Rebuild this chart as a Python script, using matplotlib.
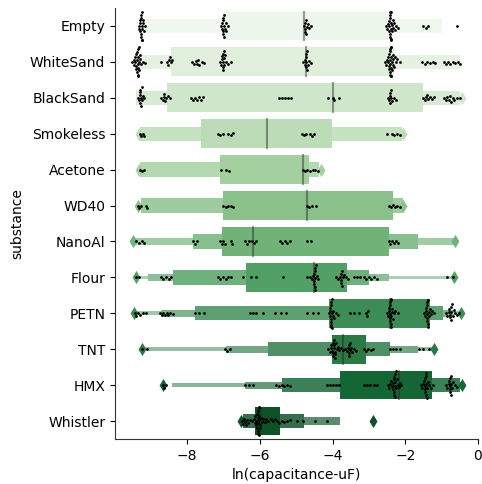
import matplotlib
matplotlib.use("Agg")
import matplotlib.pyplot as plt
import numpy as np
import pandas as pd
import seaborn as sns

substances = ["Empty", "WhiteSand", "BlackSand", "Smokeless", "Acetone", "WD40",
              "NanoAl", "Flour", "PETN", "TNT", "HMX", "Whistler"]

empty = [-9.33, -9.31, -9.3, -9.29, -9.28, -9.27, -9.27, -9.26, -9.26, -9.25, -9.25, -9.24, -9.24, -9.23, -9.22, -9.21, -9.19, -9.16,
         -7.06, -7.04, -7.03, -7.02, -7.01, -7.0, -7.0, -6.99, -6.98, -6.97, -6.96, -6.94, -6.92, -6.88,
         -4.78, -4.77, -4.76, -4.75, -4.74, -4.73, -4.71, -4.68, -4.64, -4.58,
         -2.52, -2.49, -2.47, -2.46, -2.45, -2.44, -2.43, -2.42, -2.42, -2.41, -2.41, -2.4, -2.4, -2.39, -2.39, -2.38,
         -2.37, -2.36, -2.35, -2.33, -2.31, -2.28, -2.25, -2.2,
         -1.5, -1.44, -1.38, -0.58]
whitesand = [-9.5, -9.47, -9.45, -9.43, -9.42, -9.41, -9.4, -9.39, -9.38, -9.37, -9.37, -9.36, -9.36, -9.35, -9.35,
             -9.34, -9.34, -9.33, -9.32, -9.31, -9.3, -9.28, -9.26, -9.22, -9.15,
             -8.71, -8.56, -8.53, -8.5, -8.48, -8.45, -8.4,
             -7.86, -7.8, -7.76, -7.72, -7.69, -7.66, -7.6, -7.53,
             -7.08, -7.06, -7.04, -7.03, -7.02, -7.01, -7.0, -7.0, -6.99, -6.98, -6.97, -6.95, -6.92, -6.87, -6.8,
             -4.8, -4.77, -4.75, -4.74, -4.73, -4.72, -4.72, -4.71, -4.7, -4.68, -4.65, -4.6,
             -2.55, -2.52, -2.5, -2.48, -2.47, -2.46, -2.45, -2.44, -2.43, -2.43, -2.42, -2.42, -2.41, -2.41, -2.4,
             -2.4, -2.39, -2.39, -2.38, -2.38, -2.37, -2.36, -2.35, -2.34, -2.33, -2.31, -2.29, -2.26, -2.22, -2.15,
             -1.53, -1.47, -1.4, -1.33, -1.25, -1.18,
             -0.94, -0.88, -0.82, -0.76, -0.7, -0.63, -0.56, -0.5]
blacksand = [-9.34, -9.31, -9.3, -9.29, -9.28, -9.28, -9.27, -9.26, -9.25, -9.23, -9.21, -9.17,
             -8.72, -8.67, -8.64, -8.62, -8.6, -8.57, -8.53, -8.46,
             -7.88, -7.83, -7.78, -7.72, -7.67, -7.62, -7.57,
             -5.48, -5.39, -5.3, -5.22, -5.14,
             -4.12, -4.0, -3.96, -3.82,
             -2.48, -2.45, -2.43, -2.42, -2.41, -2.4, -2.38, -2.36, -2.32, -2.26,
             -1.52, -1.47, -1.43, -1.4, -1.37, -1.33, -1.27, -1.2,
             -0.93, -0.88, -0.84, -0.8, -0.77, -0.74, -0.7, -0.65, -0.58, -0.5]
smokeless = [-9.3, -9.27, -9.22, -9.18, -7.15, -7.08, -7.0, -6.87, -6.8, -6.74,
             -4.85, -4.79, -4.72, -4.62, -4.57, -4.52, -2.51, -2.37, -2.3, -2.22, -2.15]
acetone = [-9.3, -9.24, -9.18, -7.07, -6.92, -6.85,
           -4.82, -4.76, -4.7, -4.63, -4.55, -4.47, -4.4]
wd40 = [-9.35, -9.31, -9.27, -9.13, -9.11, -7.0, -6.94, -6.88, -6.8, -6.74,
        -4.71, -4.64, -4.56, -4.46, -2.46, -2.4, -2.35, -2.29, -2.22, -2.15]
nanoal = [-9.4, -9.33, -9.25, -9.18, -7.83, -7.78, -7.72, -7.1, -7.05, -7.0, -6.96, -6.79, -6.77,
          -6.41, -6.36, -6.3, -6.22, -6.16, -6.09, -5.45, -5.38, -5.3, -5.24, -5.17, -4.71, -4.58,
          -2.46, -2.41, -2.36, -2.3, -2.25, -2.19]
flour = [-9.4, -9.32, -8.71, -8.65, -8.57, -8.5, -8.43, -7.15, -7.08, -7.0, -6.93, -6.86, -6.78,
         -6.46, -6.23, -6.1, -5.36,
         -4.7, -4.62, -4.56, -4.53, -4.51, -4.5, -4.5, -4.49, -4.49, -4.48, -4.48, -4.47, -4.46, -4.44, -4.4,
         -3.9, -3.84, -3.8, -3.78, -3.77, -3.76, -3.75, -3.74, -3.72, -3.69, -3.64, -3.57,
         -3.42, -3.33, -3.25, -3.14, -3.07, -3.0, -2.93, -2.86, -2.79, -0.85, -0.69]
petn = [-9.44, -9.4, -9.36, -9.3, -9.22, -9.13, -8.75, -8.7, -8.65, -8.6, -8.56, -8.52, -8.46, -8.39,
        -7.79, -7.66, -7.52, -6.27, -6.18, -6.09, -5.91, -5.58, -5.42, -5.27, -4.71, -4.55, -4.4,
        -4.1, -4.08, -4.07, -4.06, -4.05, -4.05, -4.04, -4.04, -4.03, -4.03, -4.02, -4.02, -4.01, -4.0,
        -3.98, -3.95, -3.9, -3.84, -3.52, -3.4, -3.26, -3.08, -3.05, -3.02,
        -2.5, -2.47, -2.45, -2.44, -2.43, -2.42, -2.42, -2.41, -2.41, -2.4, -2.4, -2.39, -2.39, -2.38,
        -2.37, -2.36, -2.34, -2.31, -2.27, -2.2,
        -1.48, -1.45, -1.43, -1.42, -1.41, -1.4, -1.4, -1.39, -1.39, -1.38, -1.38, -1.37, -1.36, -1.35,
        -1.33, -1.3, -1.26, -1.2,
        -0.88, -0.84, -0.81, -0.79, -0.77, -0.76, -0.75, -0.74, -0.73, -0.72, -0.7, -0.67, -0.63, -0.58, -0.52]
tnt = [-9.24, -9.1, -6.96, -6.9, -6.83,
       -4.12, -4.08, -4.05, -4.03, -4.01, -4.0, -3.99, -3.98, -3.97, -3.96, -3.95, -3.94, -3.93, -3.92,
       -3.91, -3.89, -3.86, -3.82, -3.77, -3.72,
       -3.66, -3.61, -3.58, -3.56, -3.55, -3.54, -3.53, -3.52, -3.5, -3.47, -3.42, -3.36,
       -3.14, -3.08, -3.02, -2.95, -2.88, -2.42, -2.34, -2.25, -2.15, -1.62, -1.5, -1.35]
hmx = [-8.66, -8.62, -8.57, -6.41, -6.3, -6.19, -5.54, -5.47, -5.4, -5.33, -5.25, -5.18,
       -4.15, -4.06, -3.98, -3.9, -3.82, -3.14, -3.05, -2.96, -2.87, -2.79,
       -2.48, -2.44, -2.41, -2.38, -2.36, -2.34, -2.33, -2.32, -2.31, -2.3, -2.3, -2.29, -2.29, -2.28,
       -2.27, -2.26, -2.25, -2.23, -2.21, -2.18, -2.15, -2.12,
       -1.57, -1.53, -1.5, -1.48, -1.47, -1.46, -1.45, -1.45, -1.44, -1.44, -1.43, -1.42, -1.41, -1.39,
       -1.37, -1.34, -1.3, -1.24,
       -0.88, -0.84, -0.81, -0.79, -0.78, -0.77, -0.76, -0.76, -0.75, -0.74, -0.73, -0.71, -0.68, -0.64, -0.59]
whistler = [-6.5, -6.47, -6.44, -6.41, -6.38, -6.35, -6.31, -6.27,
            -6.2, -6.17, -6.14, -6.12, -6.1, -6.09, -6.08, -6.07, -6.06, -6.05, -6.05, -6.04, -6.04, -6.03,
            -6.03, -6.02, -6.02, -6.01, -6.0, -5.99, -5.97, -5.94, -5.9, -5.86, -5.82,
            -5.76, -5.7, -5.64, -5.58, -5.52, -5.46, -5.4, -5.33, -5.25, -5.18,
            -4.98, -4.82, -4.48, -4.16]

observations = [empty, whitesand, blacksand, smokeless, acetone, wd40,
                nanoal, flour, petn, tnt, hmx, whistler]

# letter-value box ends, innermost first (lower, upper)
lv_boxes = [
    [(-7.01, -2.42), (-9.25, -1.0)],
    [(-8.43, -2.32), (-9.44, -0.49)],
    [(-8.55, -1.52), (-9.4, -0.49)],
    [(-7.62, -4.02), (-9.3, -2.1)],
    [(-7.1, -4.64), (-9.3, -4.36)],
    [(-7.01, -2.34), (-9.26, -2.07)],
    [(-7.05, -2.46), (-7.83, -1.64), (-9.45, -0.63)],
    [(-6.38, -3.59), (-8.38, -3.01), (-9.07, -2.46), (-9.3, -0.67)],
    [(-4.09, -1.31), (-7.79, -0.95), (-8.71, -0.7), (-9.44, -0.49)],
    [(-4.01, -3.08), (-5.77, -2.42), (-6.92, -1.66), (-9.21, -1.22)],
    [(-3.79, -1.27), (-5.4, -0.5), (-6.41, -0.48), (-8.4, -0.46)],
    [(-6.12, -5.43), (-6.46, -4.78), (-6.5, -3.79)],
]
medians = [-4.78, -4.74, -3.98, -5.79, -4.82, -4.69, -6.18, -4.5, -2.43, -3.7, -2.16, -6.0]
outliers = [
    [], [], [-0.45], [-9.32, -2.05], [-9.32, -4.33], [-9.35, -2.05],
    [-9.49, -0.62], [-9.4, -0.67], [-9.47, -0.46], [-9.24, -1.22], [-8.66, -0.44], [-6.52, -2.88],
]

fig = plt.figure(figsize=(4.82, 4.84), dpi=100)
ax = fig.add_axes([0.2386, 0.093, 0.9917 - 0.2386, 0.9835 - 0.093])

palette = sns.color_palette("Greens", len(substances), desat=0.75)

for i, name in enumerate(substances):
    base = np.array(palette[i])
    levels = lv_boxes[i]
    n = len(levels)
    for j in range(n - 1, -1, -1):
        lo, hi = levels[j]
        t = 0.17 * j
        col = base + (1 - base) * t
        ax.barh(i, hi - lo, left=lo, height=0.8 * 0.5 ** j, color=col,
                linewidth=0, zorder=1 + (n - j) * 0.01)
    ax.plot([medians[i], medians[i]], [i - 0.4, i + 0.4], color=".15", alpha=.45,
            lw=1.5, zorder=1.5)
    if outliers[i]:
        ax.scatter(outliers[i], [i] * len(outliers[i]), marker="d", s=45,
                   color=base, linewidths=0, zorder=1.6)

df = pd.DataFrame({
    "substance": [name for name, vals in zip(substances, observations) for _ in vals],
    "value": [v for vals in observations for v in vals],
})
sns.swarmplot(data=df, x="value", y="substance", order=substances, color="k",
              size=2.0, ax=ax, zorder=3)

ax.set_xlim(-9.98, 0)
ax.set_ylim(11.5, -0.5)
ax.set_xticks([-8, -6, -4, -2, 0])
ax.set_xticklabels(["\u22128", "\u22126", "\u22124", "\u22122", "0"])
ax.set_xlabel("ln(capacitance-uF)")
ax.set_ylabel("substance")
for s in ["top", "right"]:
    ax.spines[s].set_visible(False)
for s in ["left", "bottom"]:
    ax.spines[s].set_color("#333333")

fig.savefig("out.png", dpi=100)
